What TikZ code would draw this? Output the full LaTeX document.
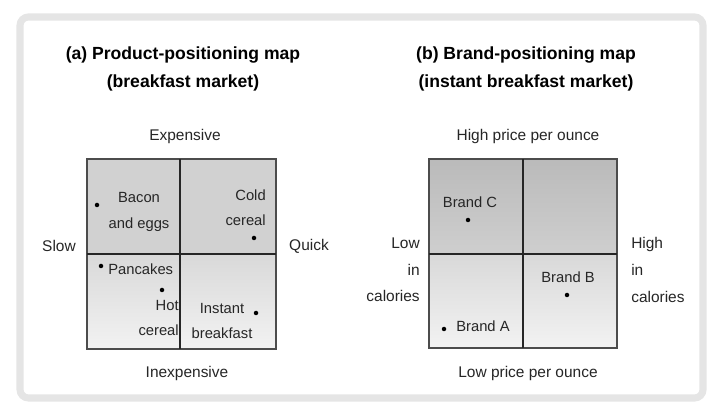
\documentclass[tikz,border=0pt]{standalone}
\usepackage{fontspec}
\setmainfont{Liberation Sans}
\usetikzlibrary{positioning}

\tikzset{
  maptitle/.style={font=\bfseries\fontsize{12.5}{20}\selectfont, align=center, inner sep=0pt},
  axislabel/.style={font=\fontsize{11}{19}\selectfont, text=black!85, inner sep=0pt},
  itemlabel/.style={font=\fontsize{10.5}{18}\selectfont, text=black!85, inner sep=0pt},
  posdot/.style={circle, fill=black, inner sep=0pt, minimum size=3.2pt},
  mapframe/.style={draw=black!70, line width=1pt},
  mapsplit/.style={draw=black!85, line width=0.9pt},
}

\begin{document}
\begin{tikzpicture}[x=0.025cm, y=-0.025cm]
        \useasboundingbox (0,0) rectangle (708,411);
        \fill[white] (0,0) rectangle (708,411);

        % Rahmen
        \draw[black!10, line width=5pt, rounded corners=6pt] (20,17) rectangle (703,398);

        % Titel
        \node[maptitle] (titleA) at (183,69) {(a) Product-positioning map\\(breakfast market)};
        \node[maptitle] (titleB) at (526,69) {(b) Brand-positioning map\\(instant breakfast market)};

        % Karte (a): Flaechen
        \fill[black!18] (87,159) rectangle (276,254);
        \shade[top color=black!15, bottom color=black!5] (87,254) rectangle (276,349);
        \draw[mapframe] (87,159) rectangle (276,349);
        \draw[mapsplit] (180,159) -- (180,349);
        \draw[mapsplit] (87,254) -- (276,254);

        % Karte (a): Achsen
        \node[axislabel] (expensive) at (185,137) {Expensive};
        \node[axislabel] (inexpensive) at (187,373) {Inexpensive};
        \node[axislabel] (slow) at (59,246) {Slow};
        \node[axislabel] (quick) at (309,246) {Quick};

        % Karte (a): Produkte
        \node[posdot] (bacondot) at (97,205) {};
        \node[itemlabel, align=center] (bacon) at (139,212) {Bacon\\and eggs};
        \node[itemlabel, align=right, anchor=east] (cold) at (266,208) {Cold\\cereal};
        \node[posdot] (colddot) at (254,238) {};
        \node[posdot] (pancakedot) at (101,266) {};
        \node[itemlabel, anchor=west] (pancakes) at (108,269) {Pancakes};
        \node[posdot] (hotdot) at (162,290) {};
        \node[itemlabel, align=right, anchor=east] (hot) at (179,318) {Hot\\cereal};
        \node[itemlabel, align=center] (instant) at (222,321) {Instant\\breakfast};
        \node[posdot] (instantdot) at (256,313) {};

        % Karte (b): Flaechen
        \shade[top color=black!27, bottom color=black!19] (429,159) rectangle (617,254);
        \shade[top color=black!15, bottom color=black!5] (429,254) rectangle (617,348);
        \draw[mapframe] (429,159) rectangle (617,348);
        \draw[mapsplit] (523,159) -- (523,348);
        \draw[mapsplit] (429,254) -- (617,254);

        % Karte (b): Achsen
        \node[axislabel] (highprice) at (528,137) {High price per ounce};
        \node[axislabel] (lowprice) at (528,373) {Low price per ounce};
        \node[axislabel, align=right, anchor=east] (lowcal) at (420,270) {Low\\in\\calories};
        \node[axislabel, align=left, anchor=west] (highcal) at (631,270) {High\\in\\calories};

        % Karte (b): Marken
        \node[itemlabel] (brandC) at (470,202) {Brand C};
        \node[posdot] (brandCdot) at (468,220) {};
        \node[itemlabel] (brandB) at (568,277) {Brand B};
        \node[posdot] (brandBdot) at (567,295) {};
        \node[posdot] (brandAdot) at (444,329) {};
        \node[itemlabel, anchor=west] (brandA) at (456,326) {Brand A};
    \end{tikzpicture}
\end{document}
